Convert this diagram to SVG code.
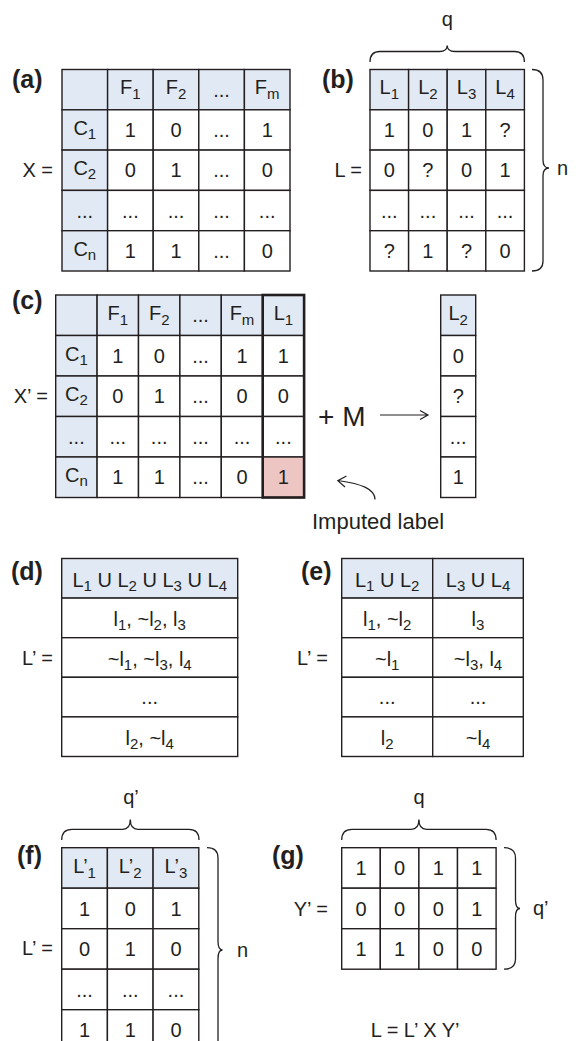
<svg xmlns="http://www.w3.org/2000/svg" width="576" height="1041" viewBox="0 0 576 1041">
<style>
.w{fill:#fff;stroke:#231f20;stroke-width:1.4}
.b{fill:#e1e9f5;stroke:#231f20;stroke-width:1.4}
.p{fill:#edc6c3;stroke:#231f20;stroke-width:1.4}
text{font-family:"Liberation Sans",Arial,sans-serif;fill:#231f20}
.t{font-size:20px;text-anchor:middle}
.e{font-size:20px;text-anchor:end}
.n{font-size:20px}
.s{font-size:15px}
.lb{font-size:25px;font-weight:bold}
.br{fill:none;stroke:#231f20;stroke-width:1.3}
.ar{fill:none;stroke:#231f20;stroke-width:1.2}
</style>
<rect width="576" height="1041" fill="#fff"/>

<g id="panel-a">
<text class="lb" x="12" y="88">(a)</text>
<text class="e" x="53" y="177.3">X =</text>
<rect class="b" x="62" y="69.5" width="45.6" height="40.3"/>
<rect class="b" x="107.6" y="69.5" width="45.6" height="40.3"/>
<rect class="b" x="153.2" y="69.5" width="45.6" height="40.3"/>
<rect class="b" x="198.8" y="69.5" width="45.6" height="40.3"/>
<rect class="b" x="244.4" y="69.5" width="45.6" height="40.3"/>
<rect class="b" x="62" y="109.8" width="45.6" height="40.3"/>
<rect class="w" x="107.6" y="109.8" width="45.6" height="40.3"/>
<rect class="w" x="153.2" y="109.8" width="45.6" height="40.3"/>
<rect class="w" x="198.8" y="109.8" width="45.6" height="40.3"/>
<rect class="w" x="244.4" y="109.8" width="45.6" height="40.3"/>
<rect class="b" x="62" y="150.1" width="45.6" height="40.3"/>
<rect class="w" x="107.6" y="150.1" width="45.6" height="40.3"/>
<rect class="w" x="153.2" y="150.1" width="45.6" height="40.3"/>
<rect class="w" x="198.8" y="150.1" width="45.6" height="40.3"/>
<rect class="w" x="244.4" y="150.1" width="45.6" height="40.3"/>
<rect class="b" x="62" y="190.4" width="45.6" height="40.3"/>
<rect class="w" x="107.6" y="190.4" width="45.6" height="40.3"/>
<rect class="w" x="153.2" y="190.4" width="45.6" height="40.3"/>
<rect class="w" x="198.8" y="190.4" width="45.6" height="40.3"/>
<rect class="w" x="244.4" y="190.4" width="45.6" height="40.3"/>
<rect class="b" x="62" y="230.7" width="45.6" height="40.3"/>
<rect class="w" x="107.6" y="230.7" width="45.6" height="40.3"/>
<rect class="w" x="153.2" y="230.7" width="45.6" height="40.3"/>
<rect class="w" x="198.8" y="230.7" width="45.6" height="40.3"/>
<rect class="w" x="244.4" y="230.7" width="45.6" height="40.3"/>
<text class="t" x="130.4" y="94.2">F<tspan class="s" dy="5">1</tspan></text>
<text class="t" x="176" y="94.2">F<tspan class="s" dy="5">2</tspan></text>
<text class="t" x="221.6" y="96.7">...</text>
<text class="t" x="267.2" y="94.2">F<tspan class="s" dy="5">m</tspan></text>
<text class="t" x="84.8" y="135">C<tspan class="s" dy="4">1</tspan></text>
<text class="t" x="130.4" y="137">1</text>
<text class="t" x="176" y="137">0</text>
<text class="t" x="221.6" y="137">...</text>
<text class="t" x="267.2" y="137">1</text>
<text class="t" x="84.8" y="175.3">C<tspan class="s" dy="4">2</tspan></text>
<text class="t" x="130.4" y="177.3">0</text>
<text class="t" x="176" y="177.3">1</text>
<text class="t" x="221.6" y="177.3">...</text>
<text class="t" x="267.2" y="177.3">0</text>
<text class="t" x="84.8" y="217.6">...</text>
<text class="t" x="130.4" y="217.6">...</text>
<text class="t" x="176" y="217.6">...</text>
<text class="t" x="221.6" y="217.6">...</text>
<text class="t" x="267.2" y="217.6">...</text>
<text class="t" x="84.8" y="255.9">C<tspan class="s" dy="4">n</tspan></text>
<text class="t" x="130.4" y="257.9">1</text>
<text class="t" x="176" y="257.9">1</text>
<text class="t" x="221.6" y="257.9">...</text>
<text class="t" x="267.2" y="257.9">0</text>
</g>

<g id="panel-b">
<text class="lb" x="322" y="88">(b)</text>
<text class="e" x="362" y="177.3">L =</text>
<path class="br" d="M370,62 Q370,51.5 380,51.5 L439.5,51.5 Q447.2,51.5 447.2,45.5 Q447.2,51.5 454.9,51.5 L514.4,51.5 Q524.4,51.5 524.4,62"/>
<text class="t" x="447.2" y="26">q</text>
<path class="br" d="M532,69.5 Q543,69.5 543,80 L543,160 Q543,168 549,168 Q543,168 543,176 L543,261 Q543,271 532,271"/>
<text class="n" x="557" y="175">n</text>
<rect class="b" x="370" y="69.5" width="38.6" height="40.3"/>
<rect class="b" x="408.6" y="69.5" width="38.6" height="40.3"/>
<rect class="b" x="447.2" y="69.5" width="38.6" height="40.3"/>
<rect class="b" x="485.8" y="69.5" width="38.6" height="40.3"/>
<rect class="w" x="370" y="109.8" width="38.6" height="40.3"/>
<rect class="w" x="408.6" y="109.8" width="38.6" height="40.3"/>
<rect class="w" x="447.2" y="109.8" width="38.6" height="40.3"/>
<rect class="w" x="485.8" y="109.8" width="38.6" height="40.3"/>
<rect class="w" x="370" y="150.1" width="38.6" height="40.3"/>
<rect class="w" x="408.6" y="150.1" width="38.6" height="40.3"/>
<rect class="w" x="447.2" y="150.1" width="38.6" height="40.3"/>
<rect class="w" x="485.8" y="150.1" width="38.6" height="40.3"/>
<rect class="w" x="370" y="190.4" width="38.6" height="40.3"/>
<rect class="w" x="408.6" y="190.4" width="38.6" height="40.3"/>
<rect class="w" x="447.2" y="190.4" width="38.6" height="40.3"/>
<rect class="w" x="485.8" y="190.4" width="38.6" height="40.3"/>
<rect class="w" x="370" y="230.7" width="38.6" height="40.3"/>
<rect class="w" x="408.6" y="230.7" width="38.6" height="40.3"/>
<rect class="w" x="447.2" y="230.7" width="38.6" height="40.3"/>
<rect class="w" x="485.8" y="230.7" width="38.6" height="40.3"/>
<text class="t" x="389.3" y="94.2">L<tspan class="s" dy="5">1</tspan></text>
<text class="t" x="427.9" y="94.2">L<tspan class="s" dy="5">2</tspan></text>
<text class="t" x="466.5" y="94.2">L<tspan class="s" dy="5">3</tspan></text>
<text class="t" x="505.1" y="94.2">L<tspan class="s" dy="5">4</tspan></text>
<text class="t" x="389.3" y="137">1</text>
<text class="t" x="427.9" y="137">0</text>
<text class="t" x="466.5" y="137">1</text>
<text class="t" x="505.1" y="137">?</text>
<text class="t" x="389.3" y="177.3">0</text>
<text class="t" x="427.9" y="177.3">?</text>
<text class="t" x="466.5" y="177.3">0</text>
<text class="t" x="505.1" y="177.3">1</text>
<text class="t" x="389.3" y="217.6">...</text>
<text class="t" x="427.9" y="217.6">...</text>
<text class="t" x="466.5" y="217.6">...</text>
<text class="t" x="505.1" y="217.6">...</text>
<text class="t" x="389.3" y="257.9">?</text>
<text class="t" x="427.9" y="257.9">1</text>
<text class="t" x="466.5" y="257.9">?</text>
<text class="t" x="505.1" y="257.9">0</text>
</g>

<g id="panel-c">
<text class="lb" x="12" y="309">(c)</text>
<text class="e" x="48" y="403.3">X’ =</text>
<rect class="b" x="55.7" y="295" width="41.4" height="40.5"/>
<rect class="b" x="97.1" y="295" width="41.4" height="40.5"/>
<rect class="b" x="138.5" y="295" width="41.4" height="40.5"/>
<rect class="b" x="179.9" y="295" width="41.4" height="40.5"/>
<rect class="b" x="221.3" y="295" width="41.4" height="40.5"/>
<rect class="b" x="262.7" y="295" width="41.4" height="40.5"/>
<rect class="b" x="55.7" y="335.5" width="41.4" height="40.5"/>
<rect class="w" x="97.1" y="335.5" width="41.4" height="40.5"/>
<rect class="w" x="138.5" y="335.5" width="41.4" height="40.5"/>
<rect class="w" x="179.9" y="335.5" width="41.4" height="40.5"/>
<rect class="w" x="221.3" y="335.5" width="41.4" height="40.5"/>
<rect class="w" x="262.7" y="335.5" width="41.4" height="40.5"/>
<rect class="b" x="55.7" y="376" width="41.4" height="40.5"/>
<rect class="w" x="97.1" y="376" width="41.4" height="40.5"/>
<rect class="w" x="138.5" y="376" width="41.4" height="40.5"/>
<rect class="w" x="179.9" y="376" width="41.4" height="40.5"/>
<rect class="w" x="221.3" y="376" width="41.4" height="40.5"/>
<rect class="w" x="262.7" y="376" width="41.4" height="40.5"/>
<rect class="b" x="55.7" y="416.5" width="41.4" height="40.5"/>
<rect class="w" x="97.1" y="416.5" width="41.4" height="40.5"/>
<rect class="w" x="138.5" y="416.5" width="41.4" height="40.5"/>
<rect class="w" x="179.9" y="416.5" width="41.4" height="40.5"/>
<rect class="w" x="221.3" y="416.5" width="41.4" height="40.5"/>
<rect class="w" x="262.7" y="416.5" width="41.4" height="40.5"/>
<rect class="b" x="55.7" y="457" width="41.4" height="40.5"/>
<rect class="w" x="97.1" y="457" width="41.4" height="40.5"/>
<rect class="w" x="138.5" y="457" width="41.4" height="40.5"/>
<rect class="w" x="179.9" y="457" width="41.4" height="40.5"/>
<rect class="w" x="221.3" y="457" width="41.4" height="40.5"/>
<rect class="p" x="262.7" y="457" width="41.4" height="40.5"/>
<rect x="262.7" y="295" width="41.4" height="202.5" fill="none" stroke="#231f20" stroke-width="2.6"/>
<text class="t" x="117.8" y="319.8">F<tspan class="s" dy="5">1</tspan></text>
<text class="t" x="159.2" y="319.8">F<tspan class="s" dy="5">2</tspan></text>
<text class="t" x="200.6" y="322.3">...</text>
<text class="t" x="242" y="319.8">F<tspan class="s" dy="5">m</tspan></text>
<text class="t" x="283.4" y="319.8">L<tspan class="s" dy="5">1</tspan></text>
<text class="t" x="76.4" y="360.8">C<tspan class="s" dy="4">1</tspan></text>
<text class="t" x="117.8" y="362.8">1</text>
<text class="t" x="159.2" y="362.8">0</text>
<text class="t" x="200.6" y="362.8">...</text>
<text class="t" x="242" y="362.8">1</text>
<text class="t" x="283.4" y="362.8">1</text>
<text class="t" x="76.4" y="401.3">C<tspan class="s" dy="4">2</tspan></text>
<text class="t" x="117.8" y="403.3">0</text>
<text class="t" x="159.2" y="403.3">1</text>
<text class="t" x="200.6" y="403.3">...</text>
<text class="t" x="242" y="403.3">0</text>
<text class="t" x="283.4" y="403.3">0</text>
<text class="t" x="76.4" y="443.8">...</text>
<text class="t" x="117.8" y="443.8">...</text>
<text class="t" x="159.2" y="443.8">...</text>
<text class="t" x="200.6" y="443.8">...</text>
<text class="t" x="242" y="443.8">...</text>
<text class="t" x="283.4" y="443.8">...</text>
<text class="t" x="76.4" y="482.3">C<tspan class="s" dy="4">n</tspan></text>
<text class="t" x="117.8" y="484.3">1</text>
<text class="t" x="159.2" y="484.3">1</text>
<text class="t" x="200.6" y="484.3">...</text>
<text class="t" x="242" y="484.3">0</text>
<text class="t" x="283.4" y="484.3">1</text>
<text x="318" y="426" font-size="28">+ M</text>
<text x="312" y="529" font-size="22">Imputed label</text>
</g>

<g id="panel-c-output">
<rect class="b" x="440.7" y="295" width="35" height="40.5"/>
<rect class="w" x="440.7" y="335.5" width="35" height="40.5"/>
<rect class="w" x="440.7" y="376" width="35" height="40.5"/>
<rect class="w" x="440.7" y="416.5" width="35" height="40.5"/>
<rect class="w" x="440.7" y="457" width="35" height="40.5"/>
<text class="t" x="458.2" y="319.8">L<tspan class="s" dy="5">2</tspan></text>
<text class="t" x="458.2" y="362.8">0</text>
<text class="t" x="458.2" y="403.3">?</text>
<text class="t" x="458.2" y="443.8">...</text>
<text class="t" x="458.2" y="484.3">1</text>
</g>

<g id="connectors">
<path class="ar" d="M380,415 L427.5,415 M420,410.5 L428,415 L420,419.5"/>
<path class="ar" d="M375,499.5 C375,489 362,484 338,480.5 M346.5,476 L337.8,480.6 L345,487"/>
</g>

<g id="panel-d">
<text class="lb" x="11" y="580">(d)</text>
<text class="e" x="53" y="664.5">L’ =</text>
<rect class="b" x="61.7" y="558.5" width="176" height="39.6"/>
<rect class="w" x="61.7" y="598.1" width="176" height="39.6"/>
<rect class="w" x="61.7" y="637.7" width="176" height="39.6"/>
<rect class="w" x="61.7" y="677.3" width="176" height="39.6"/>
<rect class="w" x="61.7" y="716.9" width="176" height="39.6"/>
<text class="t" x="149.7" y="587">L<tspan class="s" dy="4">1</tspan><tspan dy="-4"> U L</tspan><tspan class="s" dy="4">2</tspan><tspan dy="-4"> U L</tspan><tspan class="s" dy="4">3</tspan><tspan dy="-4"> U L</tspan><tspan class="s" dy="4">4</tspan></text>
<text class="t" x="149.7" y="626.4">l<tspan class="s" dy="4">1</tspan><tspan dy="-4">, ~l</tspan><tspan class="s" dy="4">2</tspan><tspan dy="-4">, l</tspan><tspan class="s" dy="4">3</tspan></text>
<text class="t" x="149.7" y="666">~l<tspan class="s" dy="4">1</tspan><tspan dy="-4">, ~l</tspan><tspan class="s" dy="4">3</tspan><tspan dy="-4">, l</tspan><tspan class="s" dy="4">4</tspan></text>
<text class="t" x="149.7" y="704.1">...</text>
<text class="t" x="149.7" y="745.2">l<tspan class="s" dy="4">2</tspan><tspan dy="-4">, ~l</tspan><tspan class="s" dy="4">4</tspan></text>
</g>

<g id="panel-e">
<text class="lb" x="301" y="580">(e)</text>
<text class="e" x="328" y="664.5">L’ =</text>
<rect class="b" x="341.7" y="558.5" width="91" height="39.6"/>
<rect class="b" x="432.7" y="558.5" width="90.6" height="39.6"/>
<rect class="w" x="341.7" y="598.1" width="91" height="39.6"/>
<rect class="w" x="432.7" y="598.1" width="90.6" height="39.6"/>
<rect class="w" x="341.7" y="637.7" width="91" height="39.6"/>
<rect class="w" x="432.7" y="637.7" width="90.6" height="39.6"/>
<rect class="w" x="341.7" y="677.3" width="91" height="39.6"/>
<rect class="w" x="432.7" y="677.3" width="90.6" height="39.6"/>
<rect class="w" x="341.7" y="716.9" width="91" height="39.6"/>
<rect class="w" x="432.7" y="716.9" width="90.6" height="39.6"/>
<text class="t" x="387.2" y="587">L<tspan class="s" dy="4">1</tspan><tspan dy="-4"> U L</tspan><tspan class="s" dy="4">2</tspan></text>
<text class="t" x="478" y="587">L<tspan class="s" dy="4">3</tspan><tspan dy="-4"> U L</tspan><tspan class="s" dy="4">4</tspan></text>
<text class="t" x="387.2" y="626.4">l<tspan class="s" dy="4">1</tspan><tspan dy="-4">, ~l</tspan><tspan class="s" dy="4">2</tspan></text>
<text class="t" x="478" y="626.4">l<tspan class="s" dy="4">3</tspan></text>
<text class="t" x="387.2" y="666">~l<tspan class="s" dy="4">1</tspan></text>
<text class="t" x="478" y="666">~l<tspan class="s" dy="4">3</tspan><tspan dy="-4">, l</tspan><tspan class="s" dy="4">4</tspan></text>
<text class="t" x="387.2" y="704.1">...</text>
<text class="t" x="478" y="704.1">...</text>
<text class="t" x="387.2" y="745.2">l<tspan class="s" dy="4">2</tspan></text>
<text class="t" x="478" y="745.2">~l<tspan class="s" dy="4">4</tspan></text>
</g>

<g id="panel-f">
<text class="lb" x="17" y="864">(f)</text>
<text class="e" x="53" y="955">L’ =</text>
<path class="br" d="M61.7,840 Q61.7,829.3 72,829.3 L122.6,829.3 Q130.3,829.3 130.3,819.5 Q130.3,829.3 138,829.3 L189,829.3 Q199,829.3 199,840"/>
<text class="t" x="131" y="804">q’</text>
<path class="br" d="M207,847.7 Q218,847.7 218,858 L218,941 Q218,950 222.5,950 Q218,950 218,959 L218,1050"/>
<text class="n" x="237" y="957">n</text>
<rect class="b" x="61.7" y="847.7" width="45.7" height="40.5"/>
<rect class="b" x="107.4" y="847.7" width="45.7" height="40.5"/>
<rect class="b" x="153.1" y="847.7" width="45.7" height="40.5"/>
<rect class="w" x="61.7" y="888.2" width="45.7" height="40.5"/>
<rect class="w" x="107.4" y="888.2" width="45.7" height="40.5"/>
<rect class="w" x="153.1" y="888.2" width="45.7" height="40.5"/>
<rect class="w" x="61.7" y="928.7" width="45.7" height="40.5"/>
<rect class="w" x="107.4" y="928.7" width="45.7" height="40.5"/>
<rect class="w" x="153.1" y="928.7" width="45.7" height="40.5"/>
<rect class="w" x="61.7" y="969.2" width="45.7" height="40.5"/>
<rect class="w" x="107.4" y="969.2" width="45.7" height="40.5"/>
<rect class="w" x="153.1" y="969.2" width="45.7" height="40.5"/>
<rect class="w" x="61.7" y="1009.7" width="45.7" height="40.5"/>
<rect class="w" x="107.4" y="1009.7" width="45.7" height="40.5"/>
<rect class="w" x="153.1" y="1009.7" width="45.7" height="40.5"/>
<text class="t" x="84.55" y="872.5">L’<tspan class="s" dy="5">1</tspan></text>
<text class="t" x="130.25" y="872.5">L’<tspan class="s" dy="5">2</tspan></text>
<text class="t" x="175.95" y="872.5">L’<tspan class="s" dy="5">3</tspan></text>
<text class="t" x="84.55" y="915.5">1</text>
<text class="t" x="130.25" y="915.5">0</text>
<text class="t" x="175.95" y="915.5">1</text>
<text class="t" x="84.55" y="956">0</text>
<text class="t" x="130.25" y="956">1</text>
<text class="t" x="175.95" y="956">0</text>
<text class="t" x="84.55" y="996.5">...</text>
<text class="t" x="130.25" y="996.5">...</text>
<text class="t" x="175.95" y="996.5">...</text>
<text class="t" x="84.55" y="1037">1</text>
<text class="t" x="130.25" y="1037">1</text>
<text class="t" x="175.95" y="1037">0</text>
</g>

<g id="panel-g">
<text class="lb" x="272" y="864">(g)</text>
<text class="e" x="328" y="915.5">Y’ =</text>
<path class="br" d="M341.7,840 Q341.7,829.3 352,829.3 L411.2,829.3 Q418.9,829.3 418.9,819.5 Q418.9,829.3 426.6,829.3 L486,829.3 Q496.1,829.3 496.1,840"/>
<text class="t" x="419" y="804">q</text>
<path class="br" d="M504,847.7 Q515.5,847.7 515.5,858 L515.5,900 Q515.5,908.5 520,908.5 Q515.5,908.5 515.5,917 L515.5,959 Q515.5,969.2 504,969.2"/>
<text class="n" x="533" y="915">q’</text>
<rect class="w" x="341.7" y="847.7" width="38.6" height="40.5"/>
<rect class="w" x="380.3" y="847.7" width="38.6" height="40.5"/>
<rect class="w" x="418.9" y="847.7" width="38.6" height="40.5"/>
<rect class="w" x="457.5" y="847.7" width="38.6" height="40.5"/>
<rect class="w" x="341.7" y="888.2" width="38.6" height="40.5"/>
<rect class="w" x="380.3" y="888.2" width="38.6" height="40.5"/>
<rect class="w" x="418.9" y="888.2" width="38.6" height="40.5"/>
<rect class="w" x="457.5" y="888.2" width="38.6" height="40.5"/>
<rect class="w" x="341.7" y="928.7" width="38.6" height="40.5"/>
<rect class="w" x="380.3" y="928.7" width="38.6" height="40.5"/>
<rect class="w" x="418.9" y="928.7" width="38.6" height="40.5"/>
<rect class="w" x="457.5" y="928.7" width="38.6" height="40.5"/>
<text class="t" x="361" y="875">1</text>
<text class="t" x="399.6" y="875">0</text>
<text class="t" x="438.2" y="875">1</text>
<text class="t" x="476.8" y="875">1</text>
<text class="t" x="361" y="915.5">0</text>
<text class="t" x="399.6" y="915.5">0</text>
<text class="t" x="438.2" y="915.5">0</text>
<text class="t" x="476.8" y="915.5">1</text>
<text class="t" x="361" y="956">1</text>
<text class="t" x="399.6" y="956">1</text>
<text class="t" x="438.2" y="956">0</text>
<text class="t" x="476.8" y="956">0</text>
<text x="370.7" y="1036.5" font-size="20">L = L’ X Y’</text>
</g>
</svg>
